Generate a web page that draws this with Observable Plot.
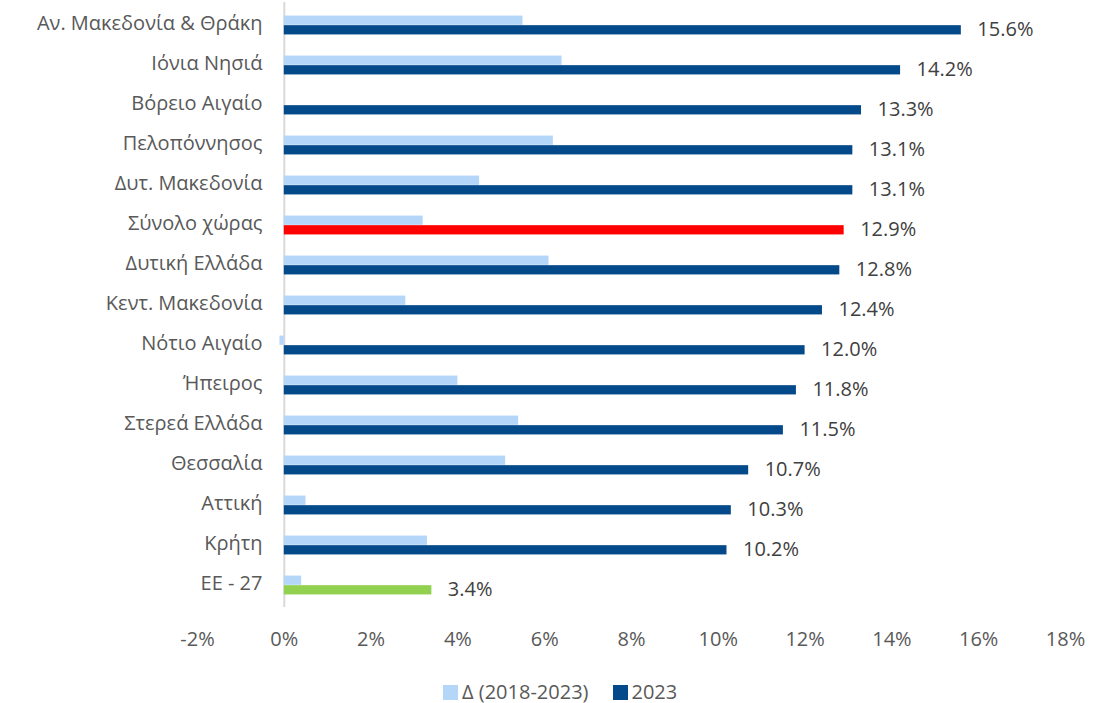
<!DOCTYPE html>
<html>
<head>
<meta charset="utf-8">
<script src="https://cdn.jsdelivr.net/npm/d3@7"></script>
<script src="https://cdn.jsdelivr.net/npm/@observablehq/plot@0.6"></script>
<style>
  html, body { margin: 0; padding: 0; background: #fff; overflow: hidden; }
  #chart { position: relative; width: 1110px; height: 703px; font-family: "Open Sans", "Liberation Sans", Arial, sans-serif; }
  #legend { position: absolute; left: 443px; top: 680px; height: 24px; line-height: 24px; display: flex; align-items: center; font-size: 20px; color: #595959; }
  #legend .sw { width: 15px; height: 15px; display: inline-block; margin-right: 4px; }
  #legend .item { display: flex; align-items: center; margin-right: 24px; }
</style>
</head>
<body>
<div id="chart"><div id="legend"></div></div>
<script>
const categories = ["Αν. Μακεδονία & Θράκη", "Ιόνια Νησιά", "Βόρειο Αιγαίο", "Πελοπόννησος", "Δυτ. Μακεδονία", "Σύνολο χώρας", "Δυτική Ελλάδα", "Κεντ. Μακεδονία", "Νότιο Αιγαίο", "Ήπειρος", "Στερεά Ελλάδα", "Θεσσαλία", "Αττική", "Κρήτη", "ΕΕ - 27"];
const values2023 = [15.6, 14.2, 13.3, 13.1, 13.1, 12.9, 12.8, 12.4, 12.0, 11.8, 11.5, 10.7, 10.3, 10.2, 3.4];
const delta = [5.5, 6.4, 0, 6.2, 4.5, 3.2, 6.1, 2.8, -0.1, 4.0, 5.4, 5.1, 0.5, 3.3, 0.4];
const xTicks = [-2, 0, 2, 4, 6, 8, 10, 12, 14, 16, 18];
const seriesNames = ["Δ (2018-2023)", "2023"];

const colLight = "#B4D7F9";
const colDark = "#044A8B";
const colRed = "#FF0000";
const colGreen = "#92D050";
const barColor = (c) => c === "Σύνολο χώρας" ? colRed : c === "ΕΕ - 27" ? colGreen : colDark;

const rows = categories.map((c, i) => ({cat: c, v: values2023[i], d: delta[i]}));

const bw = 605 / 15;
const half = bw / 2;
const barH = 9.6;
const font = "Open Sans, Liberation Sans, Arial, sans-serif";

const plot = Plot.plot({
  width: 1110,
  height: 665,
  marginLeft: 197,
  marginRight: 45,
  marginTop: 2,
  marginBottom: 58,
  style: {fontFamily: font, fontSize: "20px", color: "#595959", background: "#fff"},
  x: {domain: [-2, 18]},
  y: {domain: categories, padding: 0},
  marks: [
    Plot.ruleX([0], {stroke: "#D9D9D9", strokeWidth: 2}),
    Plot.barX(rows, {x1: 0, x2: "d", y: "cat", fill: colLight, insetTop: half - barH, insetBottom: half}),
    Plot.barX(rows, {x1: 0, x2: "v", y: "cat", fill: d => barColor(d.cat), insetTop: half, insetBottom: half - barH}),
    Plot.text(rows, {x: "v", y: "cat", text: d => d.v.toFixed(1) + "%", textAnchor: "start", dx: 16, dy: 4, fill: "#404040", fontSize: 20}),
    Plot.axisY({tickSize: 0, tickPadding: 0, dx: 65, dy: -2, fill: "#595959", fontSize: 20, label: null}),
    Plot.axisX({ticks: xTicks, tickFormat: d => d + "%", tickSize: 0, tickPadding: 24, fill: "#595959", fontSize: 20, label: null})
  ]
});
document.getElementById("chart").prepend(plot);

const legend = document.getElementById("legend");
[colLight, colDark].forEach((c, i) => {
  const item = document.createElement("span");
  item.className = "item";
  const sw = document.createElement("span");
  sw.className = "sw";
  sw.style.background = c;
  item.appendChild(sw);
  item.appendChild(document.createTextNode(seriesNames[i]));
  legend.appendChild(item);
});
</script>
</body>
</html>
